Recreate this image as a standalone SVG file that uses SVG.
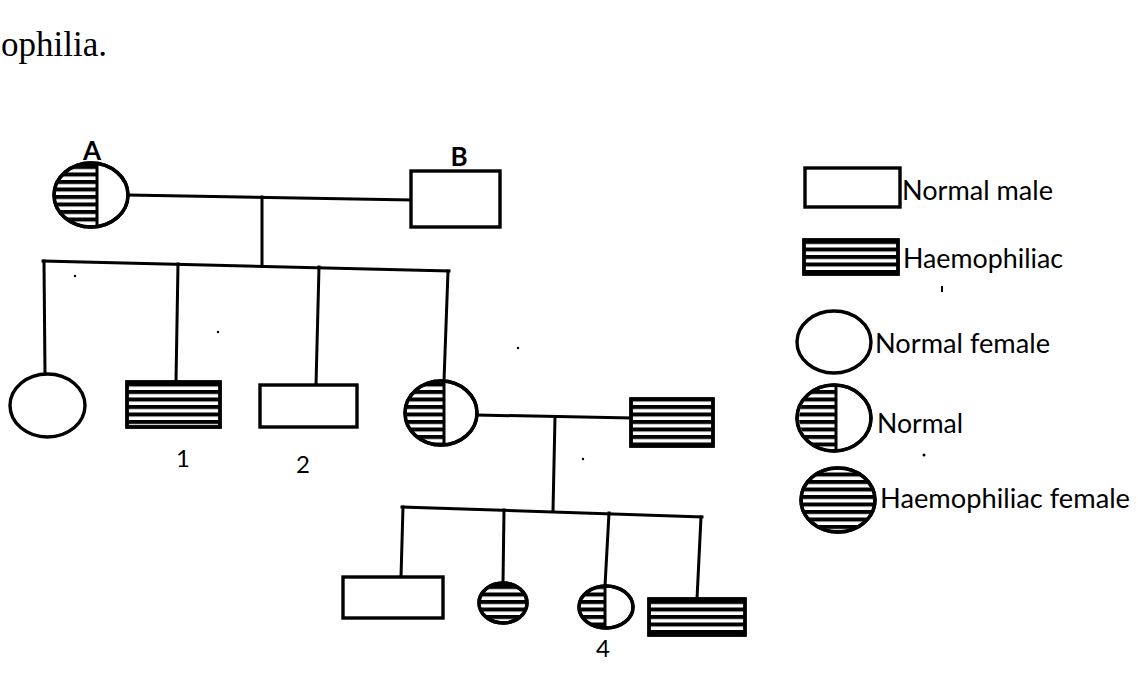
<svg xmlns="http://www.w3.org/2000/svg" width="1138" height="694" viewBox="0 0 1138 694">
  <defs>
    <pattern id="hatch" patternUnits="userSpaceOnUse" width="20" height="7.5">
      <rect x="0" y="0" width="20" height="4" fill="#000"/>
    </pattern>
  </defs>
  <style>
    .ln { stroke:#000; stroke-width:3; fill:none; stroke-linecap:square; }
    .sh { stroke:#000; stroke-width:3.4; fill:#fff; }
    .hs { stroke:#000; stroke-width:3.4; fill:url(#hatch); }
    .hf { stroke:none; fill:url(#hatch); }
    .dv { stroke:#000; stroke-width:3; }
    .lg { font-family:Lato, "Liberation Sans", sans-serif; font-size:26px; fill:#000; }
    .num { font-family:Lato, "Liberation Sans", sans-serif; font-size:24px; fill:#000; text-anchor:middle; }
    .lbl { font-family:Lato, "Liberation Sans", sans-serif; font-size:26px; font-weight:bold; fill:#000; text-anchor:middle; }
    .dot { fill:#000; }
  </style>
  <rect x="0" y="0" width="1138" height="694" fill="#fff"/>

  <text x="1" y="56" font-family="'Liberation Serif', serif" font-size="35" fill="#000">ophilia.</text>

  <g id="connectors">
    <line class="ln" x1="128" y1="195" x2="411" y2="200"/>
    <line class="ln" x1="262" y1="197" x2="262" y2="266"/>
    <line class="ln" x1="43" y1="261" x2="449" y2="271"/>
    <line class="ln" x1="44" y1="261" x2="45" y2="374"/>
    <line class="ln" x1="178" y1="264" x2="176" y2="382"/>
    <line class="ln" x1="319" y1="267" x2="316" y2="385"/>
    <line class="ln" x1="448" y1="271" x2="444" y2="381"/>
    <line class="ln" x1="477" y1="415" x2="631" y2="418"/>
    <line class="ln" x1="555" y1="417" x2="553" y2="511"/>
    <line class="ln" x1="402" y1="507" x2="702" y2="517"/>
    <line class="ln" x1="403" y1="507" x2="401" y2="577"/>
    <line class="ln" x1="504" y1="510" x2="503" y2="583"/>
    <line class="ln" x1="609" y1="513" x2="605" y2="586"/>
    <line class="ln" x1="701" y1="517" x2="697" y2="599"/>
  </g>

  <g id="nodeA">
    <ellipse class="sh" cx="91" cy="195" rx="37" ry="32"/>
    <path class="hf" d="M97,163.4 A37,32 0 1 0 97,226.6 Z"/>
    <ellipse cx="91" cy="195" rx="37" ry="32" fill="none" stroke="#000" stroke-width="3.4"/>
    <line class="dv" x1="97" y1="163.4" x2="97" y2="226.6"/>
    <text class="lbl" x="92" y="160">A</text>
  </g>

  <g id="nodeB">
    <rect class="sh" x="411" y="171" width="89" height="56"/>
    <text class="lbl" x="459" y="166">B</text>
  </g>

  <g id="child-female">
    <ellipse class="sh" cx="47.5" cy="405.5" rx="37.5" ry="31.5"/>
  </g>

  <g id="child-male-1">
    <rect class="sh" x="127" y="382" width="93" height="45"/>
    <rect class="hs" x="127" y="382" width="93" height="45"/>
    <text class="num" x="183" y="467">1</text>
  </g>

  <g id="child-male-2">
    <rect class="sh" x="260" y="385" width="97" height="42"/>
    <text class="num" x="303" y="473">2</text>
  </g>

  <g id="carrier-daughter">
    <ellipse class="sh" cx="441" cy="413" rx="36" ry="32"/>
    <path class="hf" d="M444,381.1 A36,32 0 1 0 444,444.9 Z"/>
    <ellipse cx="441" cy="413" rx="36" ry="32" fill="none" stroke="#000" stroke-width="3.4"/>
    <line class="dv" x1="444" y1="381.1" x2="444" y2="444.9"/>
  </g>

  <g id="husband">
    <rect class="sh" x="631" y="399" width="82" height="47"/>
    <rect class="hs" x="631" y="399" width="82" height="47"/>
  </g>

  <g id="grandson-normal">
    <rect class="sh" x="343" y="577" width="100" height="41"/>
  </g>

  <g id="granddaughter-haemo">
    <ellipse class="sh" cx="503" cy="603" rx="24" ry="20"/>
    <ellipse class="hs" cx="503" cy="603" rx="24" ry="20"/>
  </g>

  <g id="granddaughter-carrier">
    <ellipse class="sh" cx="606" cy="607" rx="27" ry="21"/>
    <path class="hf" d="M605,586 A27,21 0 0 0 605,628 Z"/>
    <ellipse cx="606" cy="607" rx="27" ry="21" fill="none" stroke="#000" stroke-width="3.4"/>
    <line class="dv" x1="605" y1="586" x2="605" y2="628"/>
    <text class="num" x="603" y="657" font-size="22">4</text>
  </g>

  <g id="grandson-haemo">
    <rect class="sh" x="649" y="599" width="96" height="36"/>
    <rect class="hs" x="649" y="599" width="96" height="36"/>
  </g>

  <g id="legend">
    <g id="legend-normal-male">
      <rect class="sh" x="805" y="168" width="95" height="39"/>
      <text class="lg" x="902" y="200" textLength="151" lengthAdjust="spacingAndGlyphs">Normal male</text>
    </g>
    <g id="legend-haemo-male">
      <rect class="sh" x="804" y="240" width="94" height="34"/>
      <rect class="hs" x="804" y="240" width="94" height="34"/>
      <text class="lg" x="903" y="268" textLength="160" lengthAdjust="spacingAndGlyphs">Haemophiliac</text>
    </g>
    <g id="legend-normal-female">
      <ellipse class="sh" cx="834" cy="342" rx="37" ry="31"/>
      <text class="lg" x="875" y="353" textLength="175" lengthAdjust="spacingAndGlyphs">Normal female</text>
    </g>
    <g id="legend-carrier">
      <ellipse class="sh" cx="834" cy="418" rx="37" ry="33"/>
      <path class="hf" d="M836,385 A37,33 0 1 0 836,451 Z"/>
      <ellipse cx="834" cy="418" rx="37" ry="33" fill="none" stroke="#000" stroke-width="3.4"/>
      <line class="dv" x1="836" y1="385" x2="836" y2="451"/>
      <text class="lg" x="877" y="433" textLength="86" lengthAdjust="spacingAndGlyphs">Normal</text>
    </g>
    <g id="legend-haemo-female">
      <ellipse class="sh" cx="838" cy="500" rx="37" ry="32"/>
      <ellipse class="hs" cx="838" cy="500" rx="37" ry="32"/>
      <text class="lg" x="880" y="508" textLength="250" lengthAdjust="spacingAndGlyphs">Haemophiliac female</text>
    </g>
  </g>

  <g id="specks">
    <rect class="dot" x="941" y="286" width="2" height="6"/>
    <circle class="dot" cx="924" cy="455" r="1.5"/>
    <circle class="dot" cx="218" cy="332" r="1.2"/>
    <circle class="dot" cx="518" cy="348" r="1.2"/>
    <circle class="dot" cx="583" cy="459" r="1.2"/>
    <circle class="dot" cx="75" cy="276" r="1.2"/>
  </g>
</svg>
